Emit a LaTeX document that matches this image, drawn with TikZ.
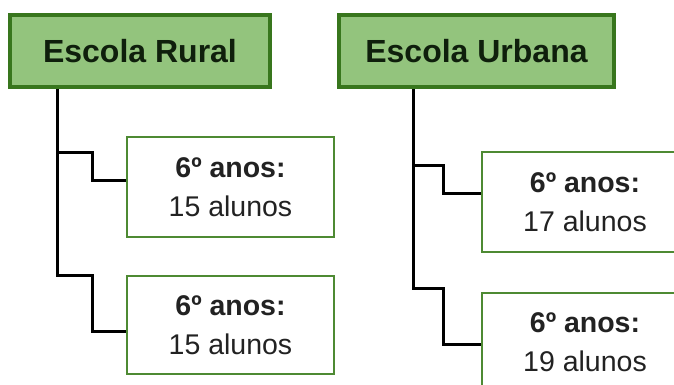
\documentclass[tikz,border=0pt]{standalone}
\usepackage{fontspec}
\setmainfont{Liberation Sans}
\definecolor{titlefill}{HTML}{93C47D}
\definecolor{titledraw}{HTML}{38761D}
\definecolor{childdraw}{HTML}{4E8A33}
\definecolor{titletext}{HTML}{0F1F0C}
\definecolor{childtext}{HTML}{222222}
\tikzset{
  titlebox/.style={draw=titledraw, fill=titlefill, line width=3.2pt, text=titletext,
    font=\fontsize{32}{38}\selectfont\bfseries, inner sep=0pt},
  childbox/.style={draw=childdraw, fill=white, line width=1.6pt, text=childtext,
    align=center, font=\fontsize{28.5}{39}\selectfont, inner sep=0pt},
  conn/.style={draw=black, line width=3pt, line join=miter}
}
\begin{document}
\begin{tikzpicture}[x=1pt,y=-1pt]
\useasboundingbox (0,0) rectangle (674,385);
\clip (0,0) rectangle (674,385);
\fill[white] (0,0) rectangle (674,385);
% titles
\node[titlebox, minimum width=260pt, minimum height=72pt] (rural) at (140,51) {Escola Rural};
\node[titlebox, minimum width=275pt, minimum height=72pt] (urbana) at (476.5,51) {Escola Urbana};
% children
\node[childbox, minimum width=207pt, minimum height=100pt] (c1) at (230.5,187) {\textbf{6º anos:}\\15 alunos};
\node[childbox, minimum width=207pt, minimum height=98pt] (c2) at (230.5,325) {\textbf{6º anos:}\\15 alunos};
\node[childbox, minimum width=206pt, minimum height=100pt] (c3) at (585,202) {\textbf{6º anos:}\\17 alunos};
\node[childbox, minimum width=206pt, minimum height=98pt] (c4) at (585,342) {\textbf{6º anos:}\\19 alunos};
% connector bend points
\coordinate (l1) at (57,152);
\coordinate (l1b) at (92,180);
\coordinate (l2) at (57,275);
\coordinate (l2b) at (92,331);
\coordinate (r1) at (413,165);
\coordinate (r1b) at (443,193);
\coordinate (r2) at (413,288);
\coordinate (r2b) at (443,344);
% left tree
\draw[conn] (rural.south -| l1) -- (l2) -- (l2 -| l2b) -- (l2b) -- (c2.west |- l2b);
\draw[conn] (l1) -- (l1 -| l1b) -- (l1b) -- (c1.west |- l1b);
% right tree
\draw[conn] (urbana.south -| r1) -- (r2) -- (r2 -| r2b) -- (r2b) -- (c4.west |- r2b);
\draw[conn] (r1) -- (r1 -| r1b) -- (r1b) -- (c3.west |- r1b);
\end{tikzpicture}
\end{document}
